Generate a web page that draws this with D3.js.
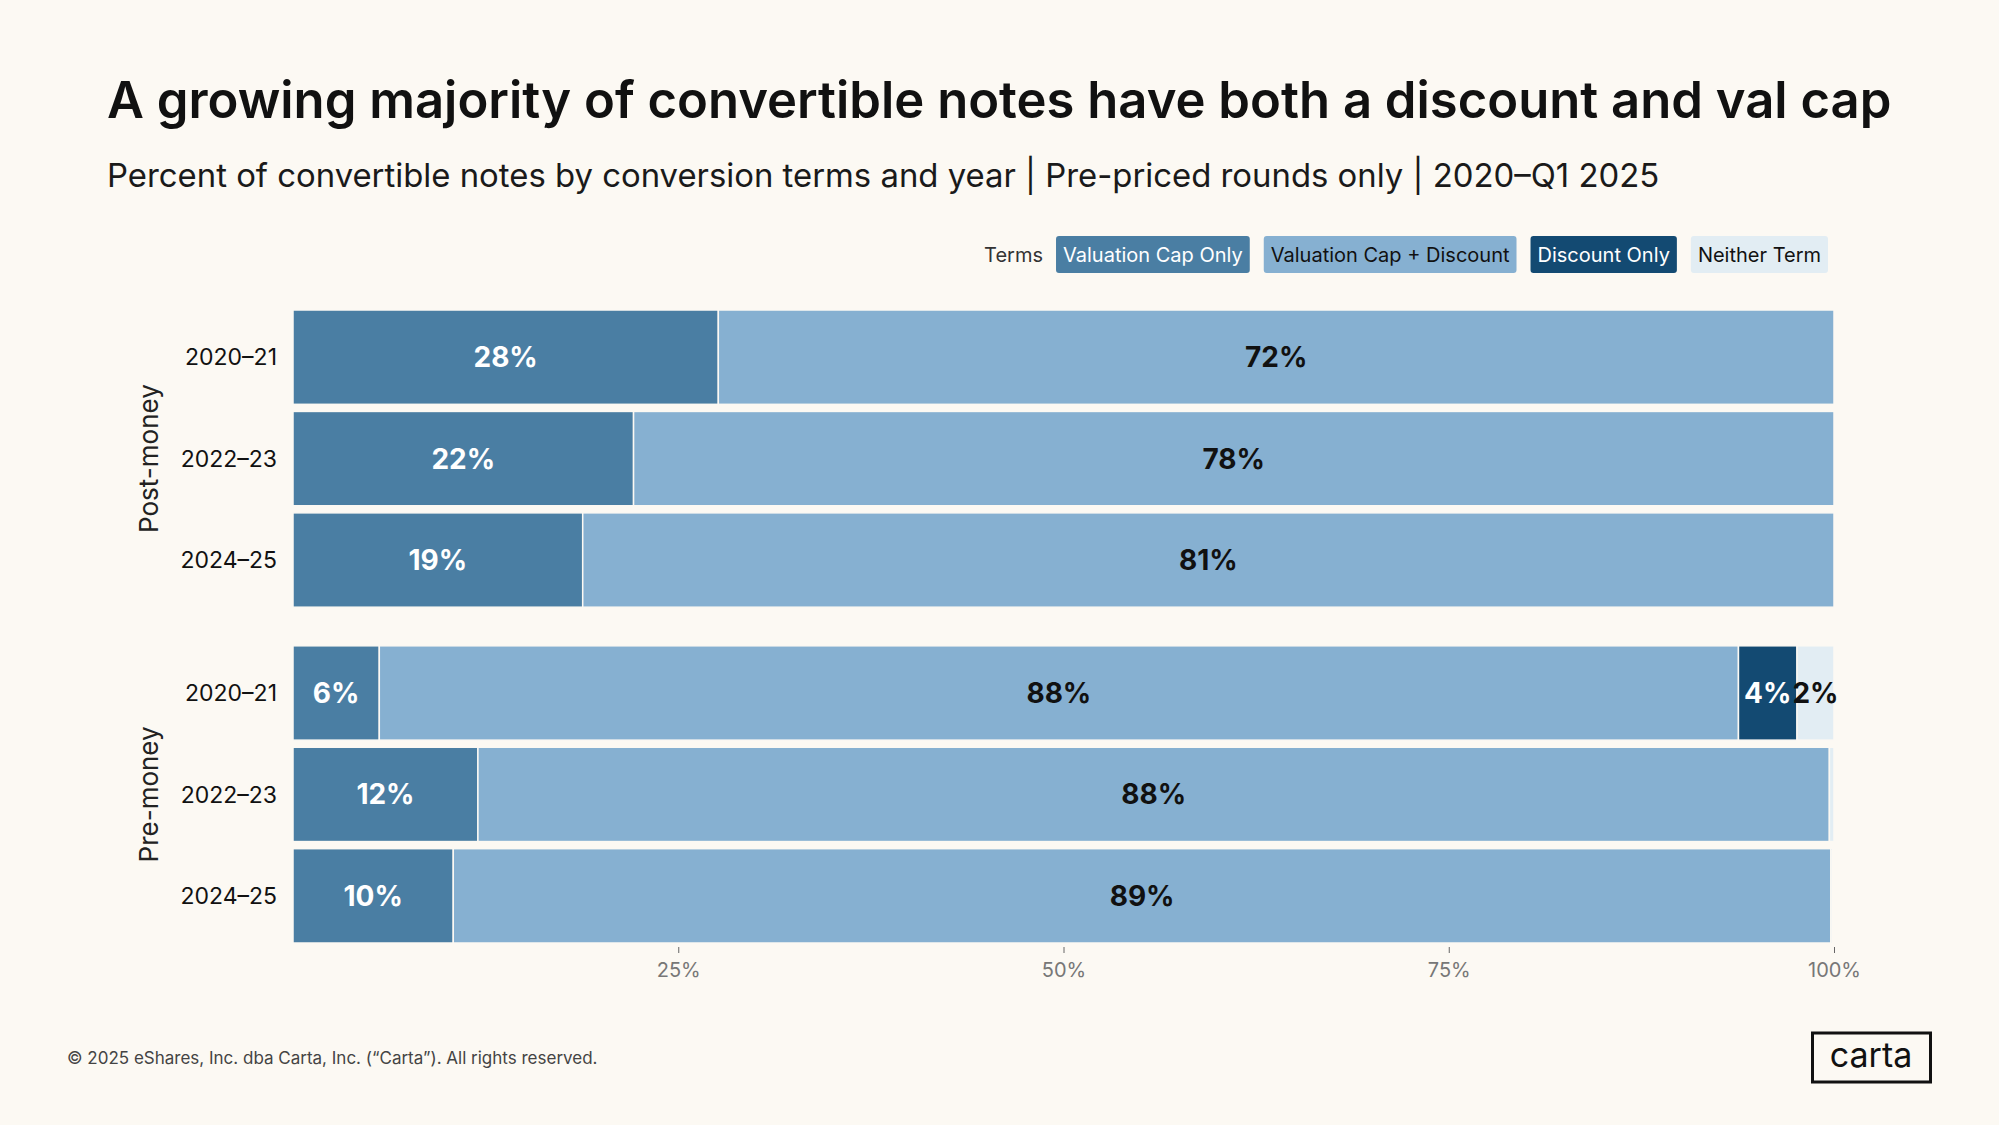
<!DOCTYPE html>
<html>
<head>
<meta charset="utf-8">
<script src="https://cdn.jsdelivr.net/npm/d3@7"></script>
<style>
  html, body { margin: 0; padding: 0; background: #fcf9f3; }
  svg { display: block; font-family: Inter, "Noto Sans", sans-serif; }
</style>
</head>
<body>
<div class="chart"></div>
<script>
var width = 1999,
    height = 1125;

// data (percent of notes)
var terms = ["Valuation Cap Only", "Valuation Cap + Discount", "Discount Only", "Neither Term"];
var termColors = ["#4a7ea3", "#86b0d1", "#134a72", "#e2edf3"];
var termText = ["#fff", "#111", "#fff", "#111"];
var groups = ["Post-money", "Pre-money"];
var periods = ["2020\u201321", "2022\u201323", "2024\u201325"];
var capOnly      = [27.6, 22.1, 18.8, 5.6, 12.0, 10.4];
var capDiscount  = [72.4, 77.9, 81.2, 88.2, 87.7, 89.4];
var discountOnly = [0, 0, 0, 3.8, 0, 0];
var neitherTerm  = [0, 0, 0, 2.4, 0.3, 0.1];
var xTicks = [25, 50, 75, 100];

var series = [capOnly, capDiscount, discountOnly, neitherTerm];

// one row per group/period
var rows = [];
groups.forEach(function (g, gi) {
    periods.forEach(function (p, pi) {
        var i = gi * periods.length + pi;
        var x0 = 0;
        var segs = series.map(function (s, si) {
            var seg = {term: si, start: x0, value: s[i]};
            x0 += s[i];
            return seg;
        });
        rows.push({group: g, period: p, segs: segs});
    });
});

var svg = d3.select(".chart").append("svg")
    .attr("width", width)
    .attr("height", height);

svg.append("rect")
    .attr("width", width)
    .attr("height", height)
    .attr("fill", "#fcf9f3");

function fitWidth(sel, target) {
    var fs = +sel.attr("font-size");
    var w = sel.node().getComputedTextLength();
    sel.attr("font-size", fs * target / w);
}

// titles
var title = svg.append("text")
    .attr("x", 107)
    .attr("y", 118)
    .attr("font-size", 52)
    .attr("font-weight", 600)
    .attr("fill", "#111")
    .text("A growing majority of convertible notes have both a discount and val cap");
fitWidth(title, 1785);

var sub = svg.append("text")
    .attr("x", 107)
    .attr("y", 187)
    .attr("font-size", 32)
    .attr("fill", "#1a1a1a")
    .text("Percent of convertible notes by conversion terms and year | Pre-priced rounds only | 2020\u2013Q1 2025");
fitWidth(sub, 1553);

// legend, right aligned
var legend = svg.append("g");
var lx = 1828;
for (var t = terms.length - 1; t >= 0; t--) {
    var g = legend.append("g");
    var txt = g.append("text")
        .attr("font-size", 20)
        .attr("fill", termText[t])
        .attr("y", 262)
        .text(terms[t]);
    var w = txt.node().getComputedTextLength() + 14;
    lx -= w;
    g.insert("rect", "text")
        .attr("x", lx)
        .attr("y", 236)
        .attr("width", w)
        .attr("height", 37)
        .attr("rx", 3)
        .attr("fill", termColors[t]);
    txt.attr("x", lx + 7);
    lx -= 14;
}
legend.append("text")
    .attr("x", lx + 1)
    .attr("y", 262)
    .attr("font-size", 20)
    .attr("fill", "#333")
    .attr("text-anchor", "end")
    .text("Terms");

// scales
var x = d3.scaleLinear().domain([0, 100]).range([293, 1834]);
var yGroup = d3.scaleBand().domain(groups).range([310, 943]).paddingInner(0.115);
var yRow = d3.scaleBand().domain(periods).range([0, yGroup.bandwidth()]).paddingInner(0.07);

function rowY(d) { return yGroup(d.group) + yRow(d.period); }

var rowG = svg.selectAll(".row")
    .data(rows)
    .enter().append("g")
    .attr("class", "row")
    .attr("transform", function (d) { return "translate(0," + rowY(d) + ")"; });

rowG.selectAll("rect")
    .data(function (d) { return d.segs.filter(function (s) { return s.value > 0; }); })
    .enter().append("rect")
    .attr("x", function (s) { return x(s.start); })
    .attr("width", function (s) { return x(s.start + s.value) - x(s.start); })
    .attr("height", yRow.bandwidth())
    .attr("fill", function (s) { return termColors[s.term]; })
    .attr("stroke", "#fcf9f3")
    .attr("stroke-width", 1.5);

rowG.selectAll(".lbl")
    .data(function (d) { return d.segs.filter(function (s) { return s.value >= 1; }); })
    .enter().append("text")
    .attr("class", "lbl")
    .attr("x", function (s) { return x(s.start + s.value / 2); })
    .attr("y", yRow.bandwidth() / 2)
    .attr("dy", "0.36em")
    .attr("text-anchor", "middle")
    .attr("font-size", 28)
    .attr("font-weight", 700)
    .attr("fill", function (s) { return termText[s.term]; })
    .text(function (s) { return Math.round(s.value) + "%"; });

// period labels
rowG.append("text")
    .attr("x", 277)
    .attr("y", yRow.bandwidth() / 2)
    .attr("dy", "0.36em")
    .attr("text-anchor", "end")
    .attr("font-size", 23)
    .attr("fill", "#111")
    .text(function (d) { return d.period; });

// group labels
svg.selectAll(".grp")
    .data(groups)
    .enter().append("text")
    .attr("class", "grp")
    .attr("transform", function (d) {
        return "translate(158," + (yGroup(d) + yGroup.bandwidth() / 2) + ") rotate(-90)";
    })
    .attr("text-anchor", "middle")
    .attr("font-size", 26)
    .attr("fill", "#222")
    .text(function (d) { return d; });

// x axis
var axis = svg.append("g")
    .attr("transform", "translate(0,947)")
    .call(d3.axisBottom(x).tickValues(xTicks)
        .tickFormat(function (d) { return d + "%"; })
        .tickSize(6).tickPadding(10));
axis.select(".domain").remove();
axis.selectAll("line").attr("stroke", "#666");
axis.selectAll("text")
    .attr("font-size", 20)
    .attr("font-family", "Inter, sans-serif")
    .attr("fill", "#777");

// footer
svg.append("text")
    .attr("x", 67)
    .attr("y", 1064)
    .attr("font-size", 17)
    .attr("fill", "#444")
    .text("\u00a9 2025 eShares, Inc. dba Carta, Inc. (\u201cCarta\u201d). All rights reserved.");

svg.append("rect")
    .attr("x", 1812.5)
    .attr("y", 1033)
    .attr("width", 118)
    .attr("height", 49)
    .attr("fill", "none")
    .attr("stroke", "#111")
    .attr("stroke-width", 3);
svg.append("text")
    .attr("x", 1871)
    .attr("y", 1067)
    .attr("text-anchor", "middle")
    .attr("font-size", 34)
    .attr("fill", "#111")
    .text("carta");
</script>
</body>
</html>
